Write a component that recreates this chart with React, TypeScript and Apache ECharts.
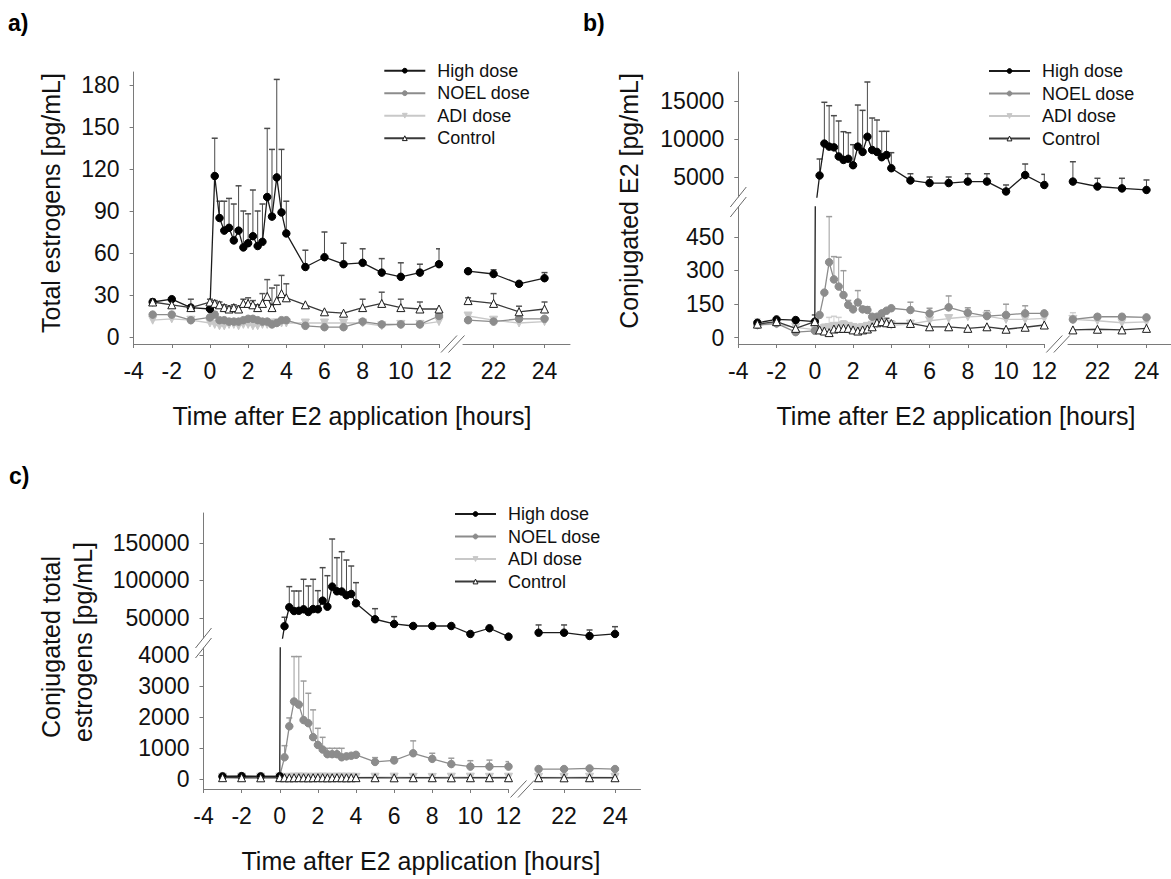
import React, { useEffect, useRef } from "react";
import * as echarts from "echarts";

// ---------------- data ----------------
const TIME = [-3, -2, -1, 0, 0.25, 0.5, 0.75, 1, 1.25, 1.5, 1.75, 2, 2.25, 2.5, 2.75, 3, 3.25, 3.5, 3.75, 4, 5, 6, 7, 8, 9, 10, 11, 12, 21, 22, 23, 24];
const NAMES = ["High dose", "NOEL dose", "ADI dose", "Control"];

const X_LEFT_RANGE = [-4, 12];
const X_RIGHT_RANGE = [20.8, 25];
const X_TICKS_RIGHT = [22, 24];

const A_Y_TICKS = [0, 30, 60, 90, 120, 150, 180];
const B_Y_TICKS_TOP = [5000, 10000, 15000];
const B_Y_TICKS_BOTTOM = [0, 150, 300, 450];
const C_Y_TICKS_TOP = [50000, 100000, 150000];
const C_Y_TICKS_BOTTOM = [0, 1000, 2000, 3000, 4000];

// Panel a: total estrogens [pg/mL] (mean, upper SD)
const A_HIGH = [25, 27, 21, 20, 115, 85, 76, 78, 69, 76, 64, 67, 72, 65, 68, 100, 86, 114, 89, 74, 50, 57, 52, 53, 46, 43, 46, 52, 47, 45, 38, 42];
const A_HIGH_SD = [0, 0, 0, 0, 27, 12, 21, 21, 26, 32, 26, 21, 33, 25, 27, 49, 48, 70, 45, 23, 12, 18, 15, 10, 10, 10, 6, 11, 1, 3, 0, 4];
const A_NOEL = [16, 16, 12, 14, 16, 12, 12, 11, 11, 11, 12, 13, 13, 12, 11, 11, 9, 10, 12, 12, 8, 7, 7, 11, 9, 9, 9, 15, 12, 11, 13, 13];
const A_NOEL_SD = [0, 0, 0, 0, 2, 0, 0, 0, 0, 0, 0, 1, 1, 0, 0, 0, 0, 0, 1, 1, 0, 0, 0, 0, 0, 0, 0, 0, 0, 0, 0, 0];
const A_ADI = [12, 13, 12, 10, 9, 8, 8, 9, 9, 8, 9, 9, 8, 8, 9, 9, 10, 10, 10, 10, 10, 10, 10, 10, 8, 9, 9, 11, 15, 12, 10, 11];
const A_ADI_SD = [0, 0, 0, 0, 0, 0, 0, 0, 0, 0, 0, 0, 0, 0, 0, 0, 0, 0, 0, 0, 0, 0, 0, 0, 0, 0, 0, 0, 0, 0, 0, 0];
const A_CTRL = [25, 23, 21, 25, 24, 23, 21, 20, 21, 20, 24, 24, 23, 21, 24, 29, 21, 26, 31, 28, 23, 18, 17, 21, 24, 21, 20, 20, 26, 24, 18, 20];
const A_CTRL_SD = [2, 0, 6, 2, 2, 2, 2, 2, 2, 2, 3, 4, 3, 2, 7, 12, 14, 11, 13, 10, 0, 0, 0, 6, 8, 6, 5, 0, 2, 7, 4, 5];

// Panel b: conjugated E2 [pg/mL]
const B_HIGH = [66, 81, 78, 71, 5200, 9400, 9000, 8900, 7700, 7250, 7400, 6550, 9000, 8300, 10300, 8550, 8300, 7600, 7900, 6150, 4550, 4200, 4200, 4400, 4400, 3100, 5250, 3950, 4400, 3750, 3500, 3300];
const B_HIGH_SD = [0, 0, 0, 0, 2170, 5430, 5380, 4170, 4670, 3710, 3430, 2700, 5470, 5470, 7200, 4210, 4200, 3410, 3110, 2050, 880, 800, 800, 1030, 1030, 850, 1460, 1400, 2610, 1080, 1330, 1310];
const B_NOEL = [56, 63, 24, 30, 101, 201, 337, 260, 228, 190, 146, 126, 157, 126, 123, 93, 93, 108, 120, 131, 123, 108, 135, 111, 96, 101, 108, 108, 81, 93, 93, 90];
const B_NOEL_SD = [0, 0, 0, 0, 0, 0, 204, 102, 131, 109, 20, 10, 53, 10, 15, 5, 5, 10, 8, 5, 35, 23, 51, 22, 24, 48, 34, 10, 0, 10, 10, 5];
const B_ADI = [55, 60, 45, 35, 30, 40, 45, 50, 50, 55, 50, 45, 40, 45, 50, 55, 60, 65, 60, 55, 60, 75, 85, 93, 96, 81, 81, 86, 81, 75, 66, 70];
const B_ADI_SD = [28, 0, 0, 0, 0, 20, 45, 45, 40, 20, 0, 0, 0, 0, 0, 0, 10, 0, 0, 0, 0, 0, 0, 20, 15, 0, 0, 0, 30, 0, 0, 0];
const B_CTRL = [60, 71, 41, 71, 34, 29, 22, 38, 41, 41, 41, 34, 29, 34, 38, 48, 66, 71, 66, 63, 63, 48, 48, 41, 48, 37, 46, 56, 34, 37, 34, 41];
const B_CTRL_SD = [0, 0, 0, 30, 0, 0, 0, 0, 0, 0, 0, 0, 0, 0, 0, 5, 27, 25, 20, 10, 5, 0, 0, 0, 0, 0, 0, 0, 0, 0, 0, 0];

// Panel c: conjugated total estrogens [pg/mL]
const C_HIGH = [80, 90, 80, 85, 39000, 64300, 59300, 59600, 61600, 58000, 61900, 61600, 73100, 65100, 91800, 85600, 85300, 80300, 82000, 69600, 48300, 42000, 39300, 39300, 39300, 28700, 36300, 25100, 30400, 30400, 26000, 28700];
const C_HIGH_SD = [0, 0, 0, 0, 12000, 27500, 26700, 26400, 40000, 34700, 39700, 24800, 44000, 41300, 63500, 44800, 53100, 47000, 37300, 27500, 14100, 9800, 0, 0, 0, 0, 0, 0, 10300, 10300, 8000, 9700];
const C_NOEL = [90, 90, 90, 90, 700, 1700, 2500, 2400, 1900, 1800, 1350, 1100, 950, 800, 800, 800, 700, 730, 750, 780, 550, 600, 830, 650, 480, 400, 400, 400, 320, 320, 340, 320];
const C_NOEL_SD = [0, 0, 0, 0, 375, 270, 1450, 1550, 1260, 965, 880, 535, 394, 190, 190, 190, 290, 0, 0, 0, 140, 110, 400, 180, 190, 190, 210, 160, 0, 0, 0, 0];
const C_ADI = [55, 60, 58, 62, 50, 55, 60, 65, 60, 58, 55, 60, 62, 58, 55, 60, 62, 58, 60, 55, 58, 60, 55, 52, 58, 60, 55, 58, 55, 52, 58, 55];
const C_ADI_SD = [0, 0, 0, 0, 0, 0, 0, 0, 0, 0, 0, 0, 0, 0, 0, 0, 0, 0, 0, 0, 0, 0, 0, 0, 0, 0, 0, 0, 0, 0, 0, 0];
const C_CTRL = [42, 40, 38, 42, 40, 38, 40, 42, 40, 38, 40, 42, 40, 38, 40, 42, 40, 38, 40, 42, 40, 38, 40, 40, 38, 40, 40, 40, 40, 38, 40, 40];
const C_CTRL_SD = [0, 0, 0, 0, 0, 0, 0, 0, 0, 0, 0, 0, 0, 0, 0, 0, 0, 0, 0, 0, 0, 0, 0, 0, 0, 0, 0, 0, 0, 0, 0, 0];

// ---------------- styles / layout ----------------
const FONT = "'Liberation Sans', Arial, Helvetica, sans-serif";
const AXIS_COLOR = "#7a7a7a";
const TEXT_COLOR = "#111111";

const STYLE: any = {
  "High dose": { symbol: "circle", size: 7.5, rotate: 0, fill: "#000000", border: "#000000", line: "#1c1c1c", err: "#4a4a4a" },
  "NOEL dose": { symbol: "circle", size: 7.5, rotate: 0, fill: "#8c8c8c", border: "#8c8c8c", line: "#8c8c8c", err: "#9c9c9c" },
  "ADI dose": { symbol: "triangle", size: 8, rotate: 180, fill: "#c8c8c8", border: "#c8c8c8", line: "#c8c8c8", err: "#d0d0d0" },
  "Control": { symbol: "triangle", size: 8, rotate: 0, fill: "#ffffff", border: "#1a1a1a", line: "#3a3a3a", err: "#555555" },
};
const DRAW_ORDER = ["ADI dose", "NOEL dose", "High dose", "Control"];

const PANELS: any[] = [
  {
    label: "a)", labelPos: [8, 11],
    xL: { left: 133.6, width: 305.4 }, xR: { left: 463, width: 107 },
    segs: [{ top: 72, height: 272, min: -5, max: 189.3, ticks: A_Y_TICKS }],
    data: { "High dose": [A_HIGH, A_HIGH_SD], "NOEL dose": [A_NOEL, A_NOEL_SD], "ADI dose": [A_ADI, A_ADI_SD], "Control": [A_CTRL, A_CTRL_SD] },
    legend: { left: 383.3, top: 61.7 },
    xTitle: { x: 352, y: 416 },
    yTitle: [{ text: "Total estrogens [pg/mL]", x: 51, y: 203 }],
  },
  {
    label: "b)", labelPos: [583, 11],
    xL: { left: 738.3, width: 306 }, xR: { left: 1068, width: 107 },
    segs: [
      { top: 72, height: 125, min: 2368, max: 18816, ticks: B_Y_TICKS_TOP },
      { top: 207, height: 137, min: -29, max: 584, ticks: B_Y_TICKS_BOTTOM },
    ],
    data: { "High dose": [B_HIGH, B_HIGH_SD], "NOEL dose": [B_NOEL, B_NOEL_SD], "ADI dose": [B_ADI, B_ADI_SD], "Control": [B_CTRL, B_CTRL_SD] },
    legend: { left: 988, top: 62 },
    xTitle: { x: 956, y: 416 },
    yTitle: [{ text: "Conjugated E2 [pg/mL]", x: 629, y: 201 }],
  },
  {
    label: "c)", labelPos: [9, 464],
    xL: { left: 203.5, width: 305 }, xR: { left: 533.5, width: 107 },
    segs: [
      { top: 513, height: 125, min: 23300, max: 190000, ticks: C_Y_TICKS_TOP },
      { top: 648, height: 141, min: -323, max: 4226, ticks: C_Y_TICKS_BOTTOM },
    ],
    data: { "High dose": [C_HIGH, C_HIGH_SD], "NOEL dose": [C_NOEL, C_NOEL_SD], "ADI dose": [C_ADI, C_ADI_SD], "Control": [C_CTRL, C_CTRL_SD] },
    legend: { left: 454, top: 505 },
    xTitle: { x: 421, y: 861 },
    yTitle: [
      { text: "Conjugated total", x: 51, y: 647 },
      { text: "estrogens [pg/mL]", x: 83, y: 642 },
    ],
  },
];

function errRenderer(color: string) {
  return (params: any, api: any) => {
    const x = api.value(0);
    const y = api.value(1);
    const e = api.value(2);
    const p0 = api.coord([x, y]);
    const p1 = api.coord([x, y + e]);
    return {
      type: "group",
      children: [
        { type: "line", shape: { x1: p0[0], y1: p0[1], x2: p1[0], y2: p1[1] }, style: { stroke: color, lineWidth: 1 } },
        { type: "line", shape: { x1: p1[0] - 3, y1: p1[1], x2: p1[0] + 3, y2: p1[1] }, style: { stroke: color, lineWidth: 1.5 } },
      ],
    };
  };
}

function slash(xc: number, yc: number, dx: number, dy: number) {
  return {
    type: "line", silent: true,
    shape: { x1: xc - dx, y1: yc + dy, x2: xc + dx, y2: yc - dy },
    style: { stroke: "#6a6a6a", lineWidth: 1 },
  };
}

function buildOption() {
  const grid: any[] = [];
  const xAxis: any[] = [];
  const yAxis: any[] = [];
  const series: any[] = [];
  const legend: any[] = [];
  const graphic: any[] = [];

  PANELS.forEach((p) => {
    const nSeg = p.segs.length;
    p.segs.forEach((seg: any, si: number) => {
      const isBottom = si === nSeg - 1;
      ["L", "R"].forEach((side) => {
        const xs = side === "L" ? p.xL : p.xR;
        const range = side === "L" ? X_LEFT_RANGE : X_RIGHT_RANGE;
        const gi = grid.length;
        grid.push({ left: xs.left, top: seg.top, width: xs.width, height: seg.height });

        const xa: any = {
          gridIndex: gi, type: "value", show: isBottom, min: range[0], max: range[1],
          axisLine: { show: true, onZero: false, lineStyle: { color: AXIS_COLOR, width: 1 } },
          axisTick: { show: true, inside: false, length: 4, lineStyle: { color: AXIS_COLOR } },
          axisLabel: { fontSize: 23, fontFamily: FONT, color: TEXT_COLOR, margin: 15, formatter: (v: number) => String(v) },
          splitLine: { show: false },
        };
        if (side === "L") {
          xa.interval = 2;
        } else {
          xa.axisTick.customValues = X_TICKS_RIGHT;
          xa.axisLabel.customValues = X_TICKS_RIGHT;
        }
        xAxis.push(xa);

        yAxis.push({
          gridIndex: gi, type: "value", show: side === "L", min: seg.min, max: seg.max,
          axisLine: { show: true, onZero: false, lineStyle: { color: AXIS_COLOR, width: 1 } },
          axisTick: { show: true, inside: false, length: 4, customValues: seg.ticks, lineStyle: { color: AXIS_COLOR } },
          axisLabel: { customValues: seg.ticks, fontSize: 23, fontFamily: FONT, color: TEXT_COLOR, margin: 14, formatter: (v: number) => String(v) },
          splitLine: { show: false },
        });

        const idx = TIME.map((t, i) => i).filter((i) => (side === "L" ? TIME[i] <= range[1] : TIME[i] >= range[0]));

        DRAW_ORDER.forEach((name) => {
          const [vals, sd] = p.data[name];
          const st = STYLE[name];
          series.push({
            type: "custom", xAxisIndex: gi, yAxisIndex: gi, clip: true, silent: true, z: 2,
            encode: { x: 0, y: 1 },
            data: idx.filter((i) => sd[i] > 0).map((i) => [TIME[i], vals[i], sd[i]]),
            renderItem: errRenderer(st.err),
          });
        });
        DRAW_ORDER.forEach((name) => {
          const [vals] = p.data[name];
          const st = STYLE[name];
          series.push({
            type: "line", name, xAxisIndex: gi, yAxisIndex: gi, z: name === "Control" ? 4 : 3,
            data: idx.map((i) => [TIME[i], vals[i]]),
            symbol: st.symbol, symbolSize: st.size, symbolRotate: st.rotate, showSymbol: true,
            itemStyle: { color: st.fill, borderColor: st.border, borderWidth: 1 },
            lineStyle: { color: st.line, width: 1.3 },
            clip: true, silent: true,
          });
        });
      });
    });

    legend.push({
      orient: "vertical", left: p.legend.left, top: p.legend.top, padding: 0,
      itemWidth: 41, itemHeight: 6, itemGap: 4.5, selectedMode: false,
      itemStyle: { borderWidth: 1 },
      data: NAMES,
      textStyle: { fontSize: 18, fontFamily: FONT, color: TEXT_COLOR, padding: [0, 0, 0, 7] },
    });

    graphic.push({
      type: "text", x: p.labelPos[0], y: p.labelPos[1], silent: true,
      style: { text: p.label, fontSize: 23, fontWeight: "bold", fontFamily: FONT, fill: "#000", align: "left", verticalAlign: "top" },
    });
    graphic.push({
      type: "text", x: p.xTitle.x, y: p.xTitle.y, silent: true,
      style: { text: "Time after E2 application [hours]", fontSize: 25, fontFamily: FONT, fill: TEXT_COLOR, align: "center", verticalAlign: "middle" },
    });
    p.yTitle.forEach((t: any) => {
      graphic.push({
        type: "text", x: t.x, y: t.y, rotation: Math.PI / 2, silent: true,
        style: { text: t.text, fontSize: 25, fontFamily: FONT, fill: TEXT_COLOR, align: "center", verticalAlign: "middle" },
      });
    });

    // x-axis break marks
    const x12 = p.xL.left + p.xL.width;
    const bottomSeg = p.segs[nSeg - 1];
    const yAx = bottomSeg.top + bottomSeg.height;
    graphic.push(slash(x12 + 10, yAx, 8, 8.5));
    graphic.push(slash(x12 + 17.5, yAx, 8, 8.5));

    // y-axis break marks
    if (nSeg === 2) {
      const xa = p.xL.left;
      const yTopEnd = p.segs[0].top + p.segs[0].height;
      const yBotStart = p.segs[1].top;
      graphic.push(slash(xa, yTopEnd, 8, 10));
      graphic.push(slash(xa, yBotStart, 8, 10));
    }
  });

  return {
    animation: false,
    backgroundColor: "#ffffff",
    textStyle: { fontFamily: FONT },
    grid, xAxis, yAxis, series, legend, graphic,
  };
}

export default function App() {
  const ref = useRef<HTMLDivElement>(null);
  useEffect(() => {
    document.body.style.margin = "0";
    if (!ref.current) return;
    const chart = echarts.init(ref.current, null, { renderer: "svg" });
    chart.setOption(buildOption() as any);
    return () => chart.dispose();
  }, []);
  return <div ref={ref} style={{ width: 1171, height: 879, background: "#fff" }} />;
}
